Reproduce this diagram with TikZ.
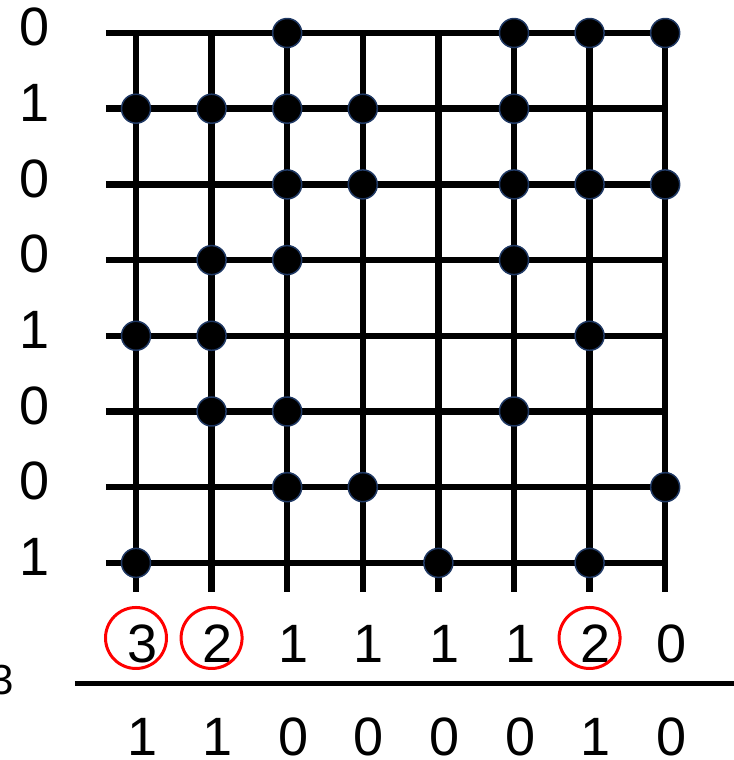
\documentclass[tikz,border=0pt]{standalone}
\usepackage{fontspec}
\setmainfont{Liberation Sans}
\definecolor{DotClr}{rgb}{0.12,0.22,0.39}
\definecolor{RingClr}{rgb}{1,0,0}

\begin{document}
\begin{tikzpicture}[x=75.6pt,y=75.7pt,
  GridLine/.style={line width=6.5pt,color=black},
  Dot/.style={circle,fill=black,draw=DotClr,line width=1.5pt,minimum size=29pt,inner sep=0pt},
  Digit/.style={font=\fontsize{54}{54}\selectfont,inner sep=0pt},
  Ring/.style={circle,draw=RingClr,line width=3pt,minimum size=61pt,inner sep=0pt}]
\useasboundingbox (-0.799,0.436) rectangle (8.910,-9.604);

% grid
\foreach \c in {1,...,8}{
  \coordinate (T\c) at (\c,0);
  \coordinate (B\c) at (\c,-7.384);
  \draw[GridLine] (T\c) -- (B\c);
}
\foreach \r in {0,...,7}{
  \coordinate (L\r) at (0.603,-\r);
  \coordinate (R\r) at (8,-\r);
  \draw[GridLine] (L\r) -- (R\r);
}

% dots (column/row)
\foreach \c/\r in {3/0,6/0,7/0,8/0, 1/1,2/1,3/1,4/1,6/1, 3/2,4/2,6/2,7/2,8/2,
                   2/3,3/3,6/3, 1/4,2/4,7/4, 2/5,3/5,6/5, 3/6,4/6,8/6, 1/7,5/7,7/7}
  \node[Dot] (D\c\r) at (\c,-\r) {};

% row labels
\foreach \v [count=\r from 0] in {0,1,0,0,1,0,0,1}
  \node[Digit] (row\r) at (-0.336,-\r+0.079) {\v};

% column counts
\foreach \v [count=\c] in {3,2,1,1,1,1,2,0}
  \node[Digit] (cnt\c) at (\c+0.08,-8.071) {\v};
\foreach \c in {1,2,7}
  \node[Ring] (ring\c) at (\c,-7.992) {};

\coordinate (barL) at (0.193,-8.587);
\coordinate (barR) at (8.910,-8.587);
\draw[line width=5pt] (barL) -- (barR);

\foreach \v [count=\c] in {1,1,0,0,0,0,1,0}
  \node[Digit] (bit\c) at (\c+0.08,-9.30) {\v};

\node[Digit,font=\fontsize{42}{42}\selectfont] (edge) at (-0.772,-8.547) {3};

\end{tikzpicture}
\end{document}
